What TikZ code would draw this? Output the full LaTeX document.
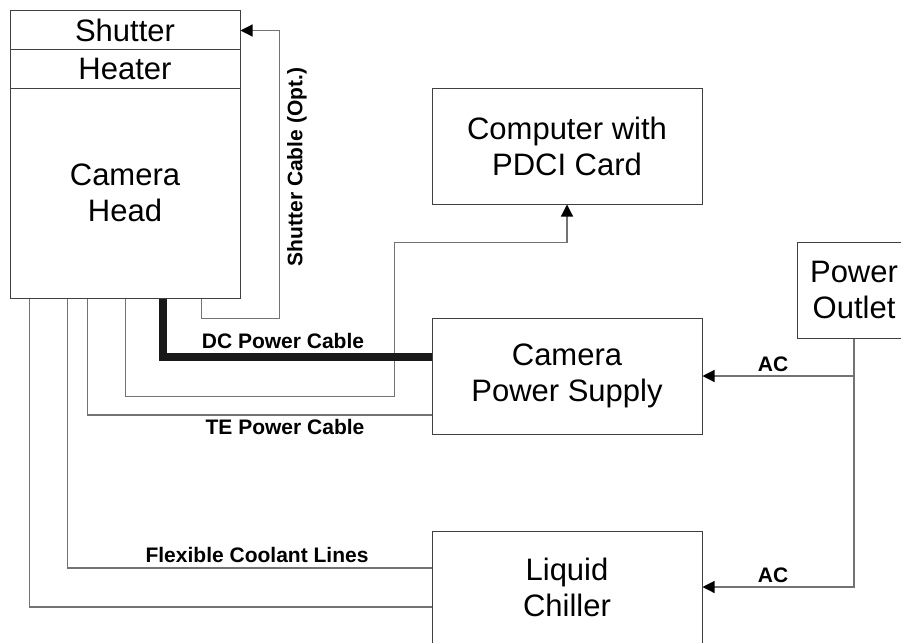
\documentclass[tikz,border=0pt]{standalone}
\usepackage{fontspec}
\setmainfont{Liberation Sans}
\usetikzlibrary{arrows.meta}
\definecolor{linegray}{gray}{0.45}
\definecolor{boxgray}{gray}{0.25}
\begin{document}
\begin{tikzpicture}[x=1pt,y=-1pt,
 box/.style={draw=boxgray,line width=1pt,inner sep=0pt,minimum width=270pt,align=center,font=\fontsize{31}{36}\selectfont},
 part/.style={box,minimum width=230pt},
 cable/.style={draw=linegray,line width=1.2pt},
 feed/.style={cable,-{Triangle[length=12pt,width=12pt,color=black]}},
 dc/.style={draw=black!90,line width=8pt},
 lbl/.style={font=\fontsize{21}{24}\bfseries\selectfont}]
\useasboundingbox (0,0) rectangle (901,642);
\clip (0,0) rectangle (901,642);
\node[part,minimum height=39pt] (shutter) at (125,30.5) {Shutter};
\node[part,minimum height=38pt] (heater) at (125,69) {Heater};
\node[part,minimum height=210pt] (head) at (125,193) {Camera\\Head};
\node[box,minimum height=116pt] (computer) at (567,146) {Computer with\\PDCI Card};
\node[box,minimum height=116pt] (psu) at (567,376) {Camera\\Power Supply};
\node[box,minimum height=112pt] (chiller) at (567,587) {Liquid\\Chiller};
\node[box,minimum width=114pt,minimum height=96pt] (outlet) at (854,290) {Power\\Outlet};
\draw[feed] ([xshift=192pt]head.south west) -- ++(0,20) -| ([xshift=39pt]shutter.east) -- (shutter.east);
\node[lbl,rotate=90] (shutterlbl) at (297,167) {Shutter Cable (Opt.)};
\draw[feed] ([xshift=116pt]head.south west) -- ++(0,98) -- ++(269,0) |- ([yshift=-38pt]computer.south) -- (computer.south);
\draw[dc] ([xshift=153pt]head.south west) |- ([yshift=19pt]psu.west);
\draw[cable] ([xshift=78pt]head.south west) |- ([yshift=-39pt]psu.west);
\draw[cable] ([xshift=58pt]head.south west) |- ([yshift=19pt]chiller.west);
\draw[cable] ([xshift=20pt]head.south west) |- ([yshift=-20pt]chiller.west);
\node[lbl] (dclbl) at (283,341) {DC Power Cable};
\node[lbl] (telbl) at (285,427) {TE Power Cable};
\node[lbl] (coollbl) at (257,555) {Flexible Coolant Lines};
\draw[feed] (outlet.south) |- (chiller.east);
\draw[feed] (outlet.south |- psu.east) -- (psu.east);
\node[lbl] (acpsu) at (773,364) {AC};
\node[lbl] (acchill) at (773,575) {AC};
\end{tikzpicture}
\end{document}
